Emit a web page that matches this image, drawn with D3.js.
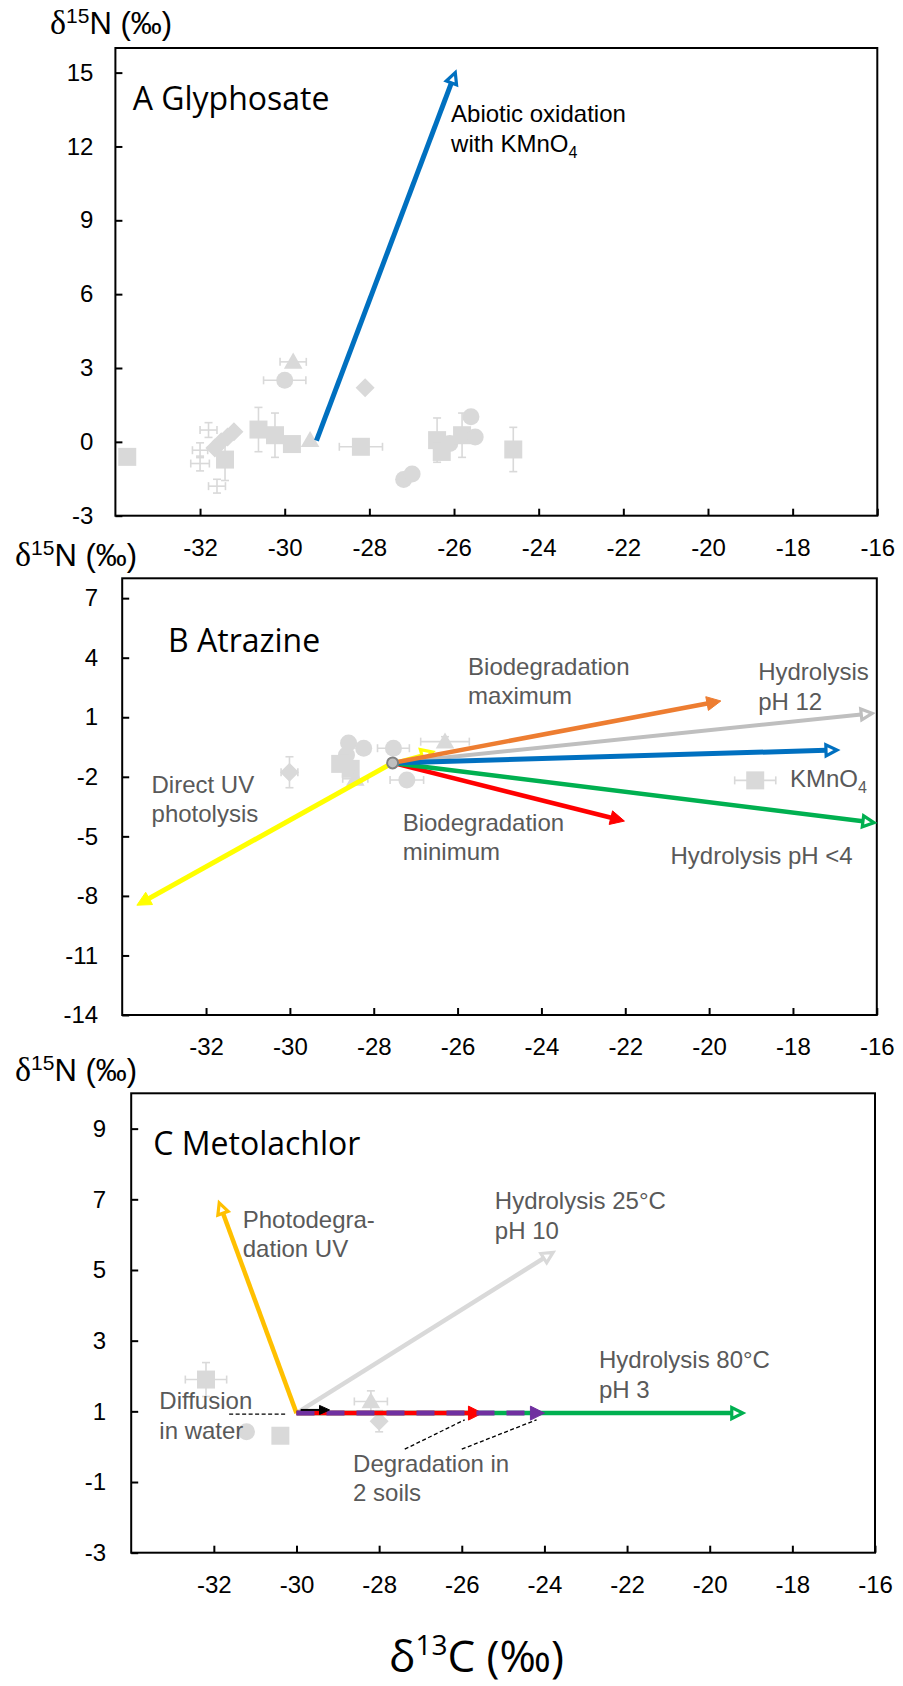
<!DOCTYPE html>
<html><head><meta charset="utf-8">
<script src="https://cdn.jsdelivr.net/npm/d3@7"></script>
<style>body{margin:0;background:#fff} svg{display:block}</style>
</head><body><svg id="c" width="903" height="1686"></svg>
<script>
// ---------- DATA ----------
const xTicks = [-32,-30,-28,-26,-24,-22,-20,-18,-16];
const yTicksA = [-3,0,3,6,9,12,15];
const yTicksB = [-14,-11,-8,-5,-2,1,4,7];
const yTicksC = [-3,-1,1,3,5,7,9];

// literature points: [δ13C, δ15N, shape, xErr, yErr]
const pointsA = [
  [-33.72,-0.61,"square",0,0],
  [-31.8,0.48,"none",0.2,0.3],
  [-32.0,-0.34,"none",0.18,0.3],
  [-32.0,-0.88,"none",0.22,0.3],
  [-31.6,-1.8,"none",0.2,0.28],
  [-31.65,-0.25,"diamond",0,0],
  [-31.5,0.0,"diamond",0,0],
  [-31.35,0.2,"diamond",0,0],
  [-31.2,0.41,"diamond",0,0],
  [-31.41,-0.72,"square",0,0.85],
  [-30.62,0.5,"square",0,0.9],
  [-30.23,0.27,"square",0,0.9],
  [-29.83,-0.09,"square",0,0],
  [-29.4,0.07,"triangle",0,0],
  [-29.8,3.25,"triangle",0.31,0],
  [-30.0,2.5,"circle",0.5,0],
  [-28.1,2.2,"diamond",0,0],
  [-28.2,-0.2,"square",0.51,0],
  [-27.19,-1.53,"circle",0,0],
  [-26.99,-1.31,"circle",0,0],
  [-26.4,0.07,"square",0,0.9],
  [-26.29,-0.41,"square",0,0],
  [-26.1,-0.07,"circle",0,0],
  [-25.81,0.27,"square",0,0.9],
  [-25.6,1.02,"circle",0,0],
  [-25.5,0.2,"circle",0,0],
  [-24.6,-0.31,"square",0,0.9]
];
const pointsB = [
  [-30.01,-1.77,"diamond",0.2,0.78],
  [-28.6,-0.3,"circle",0,0],
  [-28.24,-0.56,"circle",0,0],
  [-28.65,-0.9,"circle",0,0],
  [-28.8,-1.35,"square",0,0],
  [-28.55,-1.6,"square",0,0],
  [-28.44,-2.1,"triangle",0.3,0],
  [-27.53,-0.56,"circle",0.38,0],
  [-26.3,-0.23,"triangle",0.58,0.25],
  [-27.21,-2.16,"circle",0.4,0.3],
  [-18.9,-2.18,"square",0.49,0]
];
const pointsC = [
  [-32.19,1.9,"square",0.5,0.48],
  [-31.21,0.42,"circle",0,0],
  [-30.39,0.31,"square",0,0],
  [-28.2,1.28,"triangle",0.4,0.3],
  [-28.0,0.72,"diamond",0,0.3]
];

// process trends: [name, δ13C start, δ15N start, δ13C end, δ15N end]
const arrowsA = [
  ["kmno4",-29.25,0.05,-25.97,15.0]
];
const arrowsB = [
  ["uv",-27.55,-1.3,-33.65,-8.47],
  ["uvSmall",-27.55,-1.3,-26.6,-0.75],
  ["bioMin",-27.55,-1.3,-22.02,-4.23],
  ["hydLow",-27.55,-1.3,-16.07,-4.31],
  ["hyd12",-27.55,-1.3,-16.11,1.2],
  ["kmno4",-27.55,-1.3,-16.95,-0.65],
  ["bioMax",-27.55,-1.3,-19.72,1.82]
];
const arrowsC = [
  ["hyd25",-30.0,0.95,-23.79,5.5],
  ["photo",-30.0,0.95,-31.87,6.9],
  ["hyd80",-30.0,0.95,-19.2,0.95],
  ["soil1",-30.0,0.95,-25.5,0.95],
  ["soil2",-30.0,0.95,-24.0,0.95],
  ["diff",-29.9,1.04,-29.2,1.04]
];
const originB = [-27.55,-1.3];

// leader lines in panel C: [x0,y0,x1,y1]
const leadersC = [
  [-31.63,0.92,-30.24,0.92],
  [-27.38,-0.07,-25.93,0.76],
  [-26.0,-0.07,-24.19,0.76]
];

// annotation texts: [lines, δ13C, δ15N]
const labelsA = [[["Abiotic oxidation","with KMnO|4"],-26.07,12.98]];
const labelsB = [
  [["Biodegradation","maximum"],-25.75,3.15],
  [["Hydrolysis","pH 12"],-18.83,2.86],
  [["KMnO|4"],-18.07,-2.49],
  [["Hydrolysis pH <4"],-20.92,-6.39],
  [["Biodegradation","minimum"],-27.31,-4.71],
  [["Direct UV","photolysis"],-33.3,-2.8]
];
const labelsC = [
  [["Photodegra-","dation UV"],-31.3,6.2],
  [["Hydrolysis 25°C","pH 10"],-25.2,6.72],
  [["Hydrolysis 80°C","pH 3"],-22.68,2.22],
  [["Diffusion","in water"],-33.32,1.06],
  [["Degradation in","2 soils"],-28.63,-0.71]
];

// ---------- STYLES ----------
const arrowStyle = {
  A_kmno4:{c:"#0070c0",w:5,head:"open"},
  B_uv:{c:"#ffff00",w:5,head:"fill"},
  B_uvSmall:{c:"#ffff00",w:3,head:"open"},
  B_bioMin:{c:"#ff0000",w:4.5,head:"fill"},
  B_hydLow:{c:"#00b050",w:4.5,head:"open"},
  B_hyd12:{c:"#bfbfbf",w:4,head:"open"},
  B_kmno4:{c:"#0070c0",w:5,head:"open"},
  B_bioMax:{c:"#ed7d31",w:4.5,head:"fill"},
  C_hyd25:{c:"#d9d9d9",w:4.5,head:"open"},
  C_photo:{c:"#ffc000",w:4.5,head:"open"},
  C_hyd80:{c:"#00b050",w:4.5,head:"open"},
  C_soil1:{c:"#ff0000",w:4.5,head:"fill"},
  C_soil2:{c:"#7030a0",w:5,head:"fill",dash:"18,12"},
  C_diff:{c:"#000000",w:2,head:"fill",hl:10,hw:4.5}
};
const ptColor = "#d9d9d9";
const labelColor = "#595959";

const panels = [
  {key:"A", xr:[115.4,877.3], yr:[515.7,48], yd:[-3,16], yTicks:yTicksA, pad:22,
   points:pointsA, arrows:arrowsA, labels:labelsA, labelFill:"#000",
   title:"A Glyphosate", titleXY:[132.7,110], ylabXY:[50,34]},
  {key:"B", xr:[122.2,876.8], yr:[1015,578.3], yd:[-14,8], yTicks:yTicksB, pad:24,
   points:pointsB, arrows:arrowsB, labels:labelsB, labelFill:labelColor,
   title:"B Atrazine", titleXY:[168,651.7], ylabXY:[15,566]},
  {key:"C", xr:[131.2,875], yr:[1552.7,1093.3], yd:[-3,10], yTicks:yTicksC, pad:25,
   points:pointsC, arrows:arrowsC, labels:labelsC, labelFill:labelColor,
   title:"C Metolachlor", titleXY:[153.3,1155], ylabXY:[15,1081]}
];

// ---------- DRAW ----------
const svg = d3.select("#c");
svg.append("rect").attr("width",903).attr("height",1686).attr("fill","#fff");
const SANS = "'Liberation Sans', Arial, sans-serif";
const TITLE = "'Open Sans', 'Noto Sans', sans-serif";

function symbolPath(shape){
  if(shape==="square") return d3.symbol(d3.symbolSquare, 324)();
  if(shape==="circle") return d3.symbol(d3.symbolCircle, 227)();
  if(shape==="triangle") return d3.symbol(d3.symbolTriangle, 150)();
  if(shape==="diamond") return "M0,-9.5L9.5,0L0,9.5L-9.5,0Z";
  return null;
}

function drawArrow(g, x, y, a, st){
  const p0=[x(a[1]),y(a[2])], p1=[x(a[3]),y(a[4])];
  const dx=p1[0]-p0[0], dy=p1[1]-p0[1], L=Math.hypot(dx,dy), ux=dx/L, uy=dy/L;
  const open = st.head==="open";
  const hl = st.hl || (open?11:14), hw = st.hw || (open?5.5:7);
  const base=[p1[0]-ux*hl, p1[1]-uy*hl];
  const le = open ? base : [p1[0]-ux*hl*0.6, p1[1]-uy*hl*0.6];
  const ln = g.append("line").attr("x1",p0[0]).attr("y1",p0[1]).attr("x2",le[0]).attr("y2",le[1])
    .attr("stroke",st.c).attr("stroke-width",st.w);
  if(st.dash) ln.attr("stroke-dasharray",st.dash);
  const pts=[p1,[base[0]-uy*hw, base[1]+ux*hw],[base[0]+uy*hw, base[1]-ux*hw]];
  g.append("polygon").attr("points",pts.map(p=>p.join(",")).join(" "))
    .attr("fill", open?"#fff":st.c).attr("stroke",st.c)
    .attr("stroke-width", open?3.2:1).attr("stroke-linejoin","miter");
}

function addRichText(t, s, small){
  // "|" marks a subscript part
  const parts = s.split("|");
  t.append("tspan").text(parts[0]);
  if(parts.length>1){
    t.append("tspan").attr("font-size",small).attr("dy",6).text(parts[1]);
  }
}

panels.forEach(P=>{
  const x = d3.scaleLinear().domain([-34,-16]).range(P.xr);
  const y = d3.scaleLinear().domain(P.yd).range(P.yr);
  const g = svg.append("g");

  // axes
  const gx = g.append("g").attr("transform",`translate(0,${P.yr[0]})`)
    .call(d3.axisBottom(x).tickValues(xTicks).tickSize(-7).tickPadding(23).tickFormat(d3.format("d")));
  const gy = g.append("g").attr("transform",`translate(${P.xr[0]},0)`)
    .call(d3.axisLeft(y).tickValues(P.yTicks).tickSize(-7).tickPadding(P.pad).tickFormat(d3.format("d")));
  [gx,gy].forEach(a=>{
    a.select(".domain").remove();
    a.selectAll("line").attr("stroke","#000").attr("stroke-width",2);
    a.selectAll("text").attr("font-family",SANS).attr("font-size",24).attr("fill","#000");
  });
  gx.selectAll("text").text(d=>String(d));
  gy.selectAll("text").text(d=>String(d));

  // frame
  g.append("rect").attr("x",P.xr[0]).attr("y",P.yr[1])
    .attr("width",P.xr[1]-P.xr[0]).attr("height",P.yr[0]-P.yr[1])
    .attr("fill","none").attr("stroke","#000").attr("stroke-width",2);

  // error bars
  const eb = g.append("g").attr("stroke",ptColor).attr("stroke-width",1.6);
  P.points.forEach(p=>{
    const cx=x(p[0]), cy=y(p[1]);
    if(p[3]>0){
      const a=x(p[0]-p[3]), b=x(p[0]+p[3]);
      eb.append("line").attr("x1",a).attr("x2",b).attr("y1",cy).attr("y2",cy);
      eb.append("line").attr("x1",a).attr("x2",a).attr("y1",cy-4).attr("y2",cy+4);
      eb.append("line").attr("x1",b).attr("x2",b).attr("y1",cy-4).attr("y2",cy+4);
    }
    if(p[4]>0){
      const a=y(p[1]-p[4]), b=y(p[1]+p[4]);
      eb.append("line").attr("x1",cx).attr("x2",cx).attr("y1",a).attr("y2",b);
      eb.append("line").attr("x1",cx-4).attr("x2",cx+4).attr("y1",a).attr("y2",a);
      eb.append("line").attr("x1",cx-4).attr("x2",cx+4).attr("y1",b).attr("y2",b);
    }
  });
  // markers
  g.append("g").selectAll("path").data(P.points.filter(p=>p[2]!=="none")).join("path")
    .attr("d",p=>symbolPath(p[2]))
    .attr("transform",p=>`translate(${x(p[0])},${y(p[1])+(p[2]==="triangle"?1.5:0)})`)
    .attr("fill",ptColor);

  // leader lines (C)
  if(P.key==="C"){
    g.append("g").selectAll("line").data(leadersC).join("line")
      .attr("x1",d=>x(d[0])).attr("y1",d=>y(d[1])).attr("x2",d=>x(d[2])).attr("y2",d=>y(d[3]))
      .attr("stroke","#000").attr("stroke-width",1.3).attr("stroke-dasharray","4,2.5");
  }

  // arrows
  const ga = g.append("g");
  P.arrows.forEach(a=>drawArrow(ga,x,y,a,arrowStyle[P.key+"_"+a[0]]));

  if(P.key==="B"){
    g.append("circle").attr("cx",x(originB[0])).attr("cy",y(originB[1])).attr("r",5.5)
      .attr("fill","#bfbfbf").attr("stroke","#808080").attr("stroke-width",2);
  }

  // annotation labels
  P.labels.forEach(l=>{
    l[0].forEach((line,i)=>{
      const t = g.append("text").attr("x",x(l[1])).attr("y",y(l[2])+i*29.5)
        .attr("font-family",SANS).attr("font-size",24).attr("fill",P.labelFill);
      addRichText(t,line,16);
    });
  });

  // panel title
  g.append("text").attr("x",P.titleXY[0]).attr("y",P.titleXY[1])
    .attr("font-family",TITLE).attr("font-size",32).attr("fill","#000").text(P.title);

  // y label δ15N (‰)
  const yl = g.append("text").attr("x",P.ylabXY[0]).attr("y",P.ylabXY[1])
    .attr("font-family",SANS).attr("font-size",31).attr("fill","#000");
  yl.append("tspan").attr("font-family","'Liberation Serif', serif").attr("font-size",34).text("δ");
  yl.append("tspan").attr("font-size",21).attr("dy",-11).text("15");
  yl.append("tspan").attr("dy",11).text("N (‰)");
});

// x title
const xt = svg.append("text").attr("x",389).attr("y",1672)
  .attr("font-family",TITLE).attr("font-size",44).attr("fill","#000");
xt.append("tspan").text("δ");
xt.append("tspan").attr("font-size",28).attr("dy",-17).text("13");
xt.append("tspan").attr("dy",17).text("C (‰)");
</script>
</body></html>
